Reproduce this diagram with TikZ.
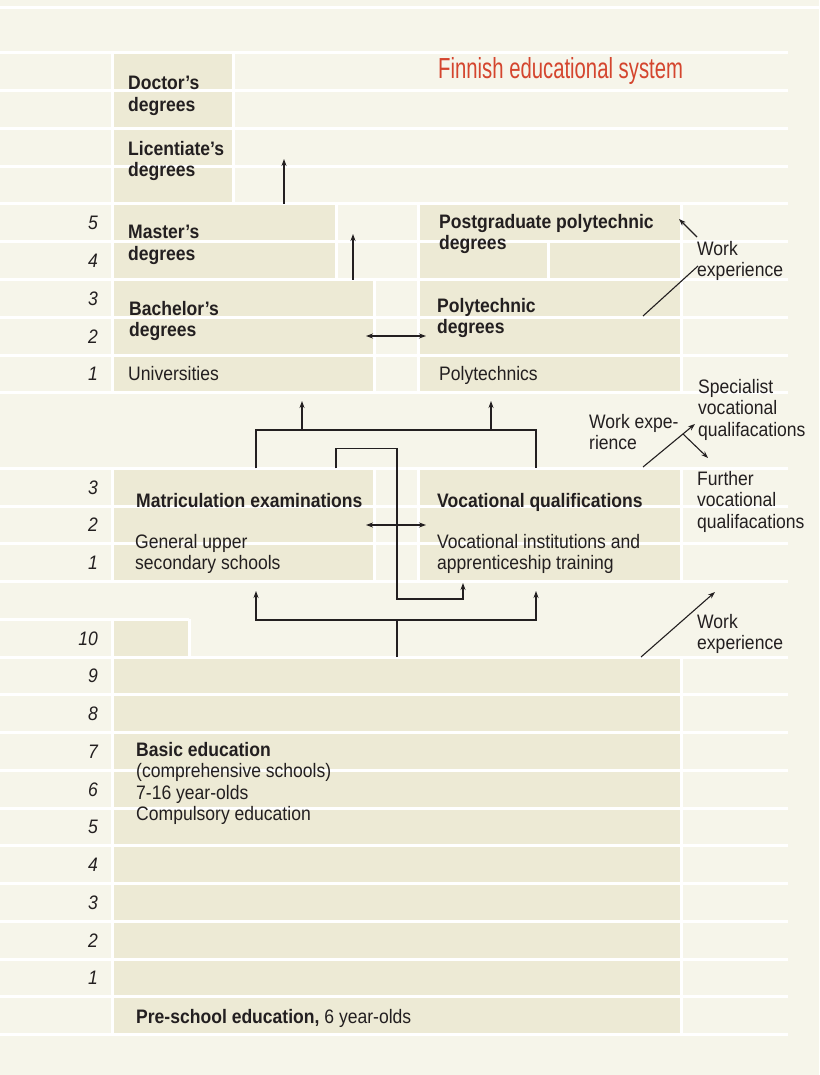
\documentclass[tikz,border=0pt]{standalone}
\usepackage{fontspec}
\setmainfont{Liberation Sans}[FakeStretch=0.9]
\newfontfamily\titlefont{Liberation Sans}[FakeStretch=0.7]
\usetikzlibrary{arrows.meta}
\definecolor{bgcream}{RGB}{246,245,234}
\definecolor{boxbeige}{RGB}{237,234,213}
\definecolor{inkdark}{RGB}{35,31,32}
\definecolor{titlered}{RGB}{212,69,46}
\begin{document}
\begin{tikzpicture}[x=1pt,y=-1pt,
  box/.style={fill=boxbeige},
  grid/.style={draw=white,line width=3pt},
  txt/.style={anchor=north west,inner sep=0pt,align=left,text=inkdark,font=\fontsize{19.5}{21.5}\selectfont},
  btxt/.style={txt,font=\fontsize{19.5}{21.5}\selectfont\bfseries},
  num/.style={anchor=base east,inner sep=0pt,text=inkdark,font=\fontsize{19.5}{21.5}\selectfont\itshape},
  link/.style={draw=inkdark,line width=1.1pt},
  arr/.style={link,-{Stealth[length=7pt,width=5pt]}},
  dbl/.style={link,{Stealth[length=7pt,width=5pt]}-{Stealth[length=7pt,width=5pt]}}]
\fill[bgcream] (0,0) rectangle (819,1075);
\useasboundingbox (0,0) rectangle (819,1075);

\fill[box] (113,53) rectangle (233,204);
\fill[box] (113,204) rectangle (336,279.5);
\fill[box] (418,204) rectangle (681,279.5);
\fill[box] (113,279.5) rectangle (374,392.75);
\fill[box] (418,279.5) rectangle (681,392.75);
\fill[box] (113,468.25) rectangle (374,581.5);
\fill[box] (418,468.25) rectangle (681,581.5);
\fill[box] (113,619.25) rectangle (189,657);
\fill[box] (113,657) rectangle (681,1034.5);

\draw[grid] (0,8) -- (819,8);
\foreach \k in {0,1,2,3,4,5,6,7,8,9,11,12,13,14,16,17,18,19,20,21,22,23,24,25,26}
  \draw[grid] (0,{53+37.75*\k}) -- (788,{53+37.75*\k});
\draw[grid] (0,619.25) -- (189,619.25);
\draw[grid] (112.5,53) -- (112.5,392.75);
\draw[grid] (112.5,468.25) -- (112.5,581.5);
\draw[grid] (112.5,619.25) -- (112.5,1034.5);
\draw[grid] (233,53) -- (233,204);
\draw[grid] (336,204) -- (336,279.5);
\draw[grid] (374,279.5) -- (374,392.75);
\draw[grid] (374,468.25) -- (374,581.5);
\draw[grid] (418,204) -- (418,392.75);
\draw[grid] (418,468.25) -- (418,581.5);
\draw[grid] (548,241.75) -- (548,279.5);
\draw[grid] (189,619.25) -- (189,657);
\draw[grid] (681.5,204) -- (681.5,392.75);
\draw[grid] (681.5,468.25) -- (681.5,581.5);
\draw[grid] (681.5,657) -- (681.5,1034.5);

\foreach \n/\k in {5/4,4/5,3/6,2/7,1/8,3/11,2/12,1/13,10/15,9/16,8/17,7/18,6/19,5/20,4/21,3/22,2/23,1/24}
  \node[num] (n\k) at (98,{53+37.75*(\k+0.5)+7}) {\n};

\node[anchor=north west,inner sep=0pt,text=titlered,font=\titlefont\fontsize{29}{32}\selectfont] (title) at (438,57) {Finnish educational system};

\node[btxt] (doc) at (128,76) {Doctor’s\\degrees};
\node[btxt] (lic) at (128,141) {Licentiate’s\\degrees};
\node[btxt] (mas) at (128,225) {Master’s\\degrees};
\node[btxt] (bac) at (129,301) {Bachelor’s\\degrees};
\node[txt] (uni) at (128,366) {Universities};
\node[btxt] (pgp) at (439,214) {Postgraduate polytechnic\\degrees};
\node[btxt] (pol) at (437,298) {Polytechnic\\degrees};
\node[txt] (pols) at (439,366) {Polytechnics};
\node[btxt] (mat) at (136,493) {Matriculation examinations};
\node[txt] (gen) at (135,534) {General upper\\secondary schools};
\node[btxt] (voc) at (437,493) {Vocational qualifications};
\node[txt] (vin) at (437,534) {Vocational institutions and\\apprenticeship training};
\node[txt] (bas) at (136,742) {\textbf{Basic education}\\(comprehensive schools)\\7-16 year-olds\\Compulsory education};
\node[txt] (pre) at (136,1009) {\textbf{Pre-school education,} 6 year-olds};
\node[txt] (we1) at (697,241) {Work\\experience};
\node[txt] (spec) at (698,379) {Specialist\\vocational\\qualifacations};
\node[txt] (we2) at (589,414) {Work expe-\\rience};
\node[txt] (fur) at (697,471) {Further\\vocational\\qualifacations};
\node[txt] (we3) at (697,614) {Work\\experience};

\coordinate (a1) at (284,204);
\coordinate (b1) at (284,159);
\draw[arr] (a1) -- (b1);
\coordinate (a2) at (353,279.5);
\coordinate (b2) at (353,234);
\draw[arr] (a2) -- (b2);
\coordinate (a3) at (366,336);
\coordinate (b3) at (426,336);
\draw[dbl] (a3) -- (b3);
\coordinate (a4) at (643,316);
\coordinate (b4) at (698,266);
\draw[link] (a4) -- (b4);
\coordinate (a5) at (697,237);
\coordinate (b5) at (679,219);
\draw[arr] (a5) -- (b5);

\coordinate (u1) at (256,468.25);
\coordinate (u2) at (536,468.25);
\draw[link] (u1) -- ++(0,-38.25) -| (u2);
\coordinate (j1) at (302,430);
\coordinate (j2) at (491,430);
\draw[arr] (j1) -- ++(0,-29);
\draw[arr] (j2) -- ++(0,-29);

\coordinate (v1) at (336,468.25);
\coordinate (v2) at (463,583);
\draw[arr] (v1) -- ++(0,-20) -| (397,599) -| (v2);
\coordinate (a8) at (366,525);
\coordinate (b8) at (426,525);
\draw[dbl] (a8) -- (b8);

\coordinate (w0) at (397,657);
\coordinate (w1) at (397,620);
\coordinate (wl) at (256,591);
\coordinate (wr) at (536,591);
\draw[link] (w0) -- (w1);
\draw[arr] (w1) -| (wl);
\draw[arr] (w1) -| (wr);

\coordinate (s0) at (643,467);
\coordinate (s1) at (695,424);
\coordinate (s2) at (683,434);
\coordinate (s3) at (708,458);
\draw[arr] (s0) -- (s1);
\draw[arr] (s2) -- (s3);
\coordinate (e0) at (641,657);
\coordinate (e1) at (715,592);
\draw[arr] (e0) -- (e1);
\end{tikzpicture}
\end{document}
